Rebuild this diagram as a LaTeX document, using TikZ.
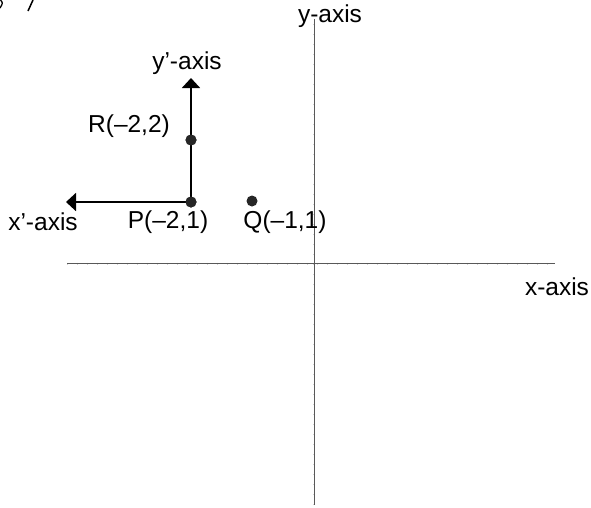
\documentclass[tikz,border=0pt]{standalone}
\usepackage{fontspec}
\setmainfont{Liberation Sans}
\usetikzlibrary{arrows.meta}
\begin{document}
\begin{tikzpicture}[x=1pt,y=-1pt,
  axisline/.style={draw=black!65,line width=1pt},
  tickmark/.style={draw=black!18,line width=0.4pt},
  vec/.style={draw=black,line width=1.8pt,-{Triangle[length=10pt,width=18pt]}},
  lbl/.style={font=\fontsize{24.5}{29}\selectfont,inner sep=0pt},
  pt/.style={circle,fill=black!85,inner sep=0pt,minimum size=11pt}]
\useasboundingbox (0,0) rectangle (591,507);
% fragments at top-left
\draw[line width=1.3pt] (0.5,0) .. controls (3,3) .. (0,8);
\draw[line width=1.5pt] (33,0) -- (28,11);
% axes
\coordinate (xl) at (67,263.5);
\coordinate (xr) at (555,263.5);
\coordinate (yt) at (314,19);
\coordinate (yb) at (314,505);
\foreach \i in {0,...,48} {\draw[tickmark] (67+\i*10,262.5) -- (67+\i*10,264.5);}
\foreach \i in {0,...,48} {\draw[tickmark] (313,24+\i*10) -- (315,24+\i*10);}
\draw[axisline] (xl) -- (xr);
\draw[axisline] (yt) -- (yb);
\node[lbl] (ylab) at (330,16) {y-axis};
\node[lbl] (xlab) at (557,287) {x-axis};
% points
\node[pt] (P) at (191,202) {};
\node[pt] (R) at (191,140) {};
\node[pt] (Q) at (252,201) {};
\coordinate (xp) at (66,202);
\coordinate (yp) at (191,78);
\draw[vec] (P.center) -- (xp);
\draw[vec] (P.center) -- (yp);
\node[pt] at (P) {};
\node[pt] at (R) {};
% labels
\node[lbl] (yplab) at (187,63) {y’-axis};
\node[lbl] (Rlab) at (129,126) {R(–2,2)};
\node[lbl] (Plab) at (168,222) {P(–2,1)};
\node[lbl] (Qlab) at (285,222) {Q(–1,1)};
\node[lbl] (xplab) at (43,222) {x’-axis};
\end{tikzpicture}
\end{document}
